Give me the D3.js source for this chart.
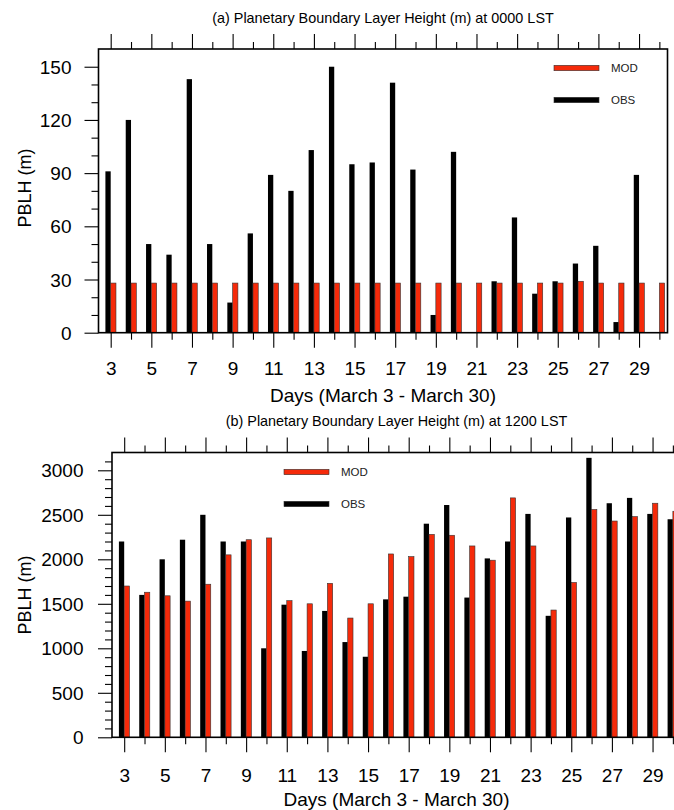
<!DOCTYPE html>
<html><head><meta charset="utf-8">
<script src="https://cdn.jsdelivr.net/npm/d3@7"></script>
<style>
html,body{margin:0;padding:0;background:#fff;}
svg{display:block;font-family:"Liberation Sans",Arial,Helvetica,sans-serif;}
</style></head>
<body><svg id="c" width="674" height="810"></svg>
<script>
// ---- data ----
const days = [3,4,5,6,7,8,9,10,11,12,13,14,15,16,17,18,19,20,21,22,23,24,25,26,27,28,29,30];
const xTickLabels = [3,5,7,9,11,13,15,17,19,21,23,25,27,29];
const series = ["MOD","OBS"];
const obs0000 = [91,120,50,44,143,50,17,56,89,80,103,150,95,96,141,92,10,102,0,29,65,22,29,39,49,6,89,0];
const mod0000 = [28,28,28,28,28,28,28,28,28,28,28,28,28,28,28,28,28,28,28,28,28,28,28,29,28,28,28,28];
const obs1200 = [2200,1600,2000,2220,2500,2200,2200,1000,1490,970,1420,1070,905,1550,1580,2400,2610,1570,2010,2200,2510,1365,2470,3140,2630,2690,2510,2450];
const mod1200 = [1700,1630,1590,1530,1720,2050,2220,2240,1535,1500,1730,1340,1500,2060,2030,2280,2270,2150,1990,2690,2150,1430,1740,2560,2430,2480,2630,2540];
const yTicks0000 = [0,30,60,90,120,150];
const yTicks1200 = [0,500,1000,1500,2000,2500,3000];
const titles = ["(a) Planetary Boundary Layer Height (m) at 0000 LST","(b) Planetary Boundary Layer Height (m) at 1200 LST"];
const xTitle = "Days (March 3 - March 30)";
const yTitle = "PBLH (m)";

const RED = "#f52a0a";
const svg = d3.select("#c");

function panel(cfg){
  const g = svg.append("g");
  const x = d3.scaleLinear().domain([2.4,30.4]).range([cfg.left, cfg.left+569]);
  const y = d3.scaleLinear().domain([0,cfg.ymax]).range([cfg.bottom, cfg.top]);
  const bw = x(2.4+0.26)-x(2.4);
  const minorX = days.filter(d=>!xTickLabels.includes(d));
  const minorY = d3.range(0,cfg.ymax,cfg.minorStep).filter(v=>!cfg.yTicks.includes(v));

  // bars
  g.selectAll("rect.obs").data(days).join("rect").attr("class","obs")
    .attr("x",(d)=>x(d)-bw).attr("width",bw)
    .attr("y",(d,i)=>y(cfg.obs[i])).attr("height",(d,i)=>y(0)-y(cfg.obs[i]))
    .attr("fill","#000");
  g.selectAll("rect.mod").data(days).join("rect").attr("class","mod")
    .attr("x",(d)=>x(d)).attr("width",bw)
    .attr("y",(d,i)=>y(cfg.mod[i])).attr("height",(d,i)=>y(0)-y(cfg.mod[i]))
    .attr("fill",RED).attr("stroke","#333").attr("stroke-width",0.6);

  // axes
  const style = sel=>{ sel.select(".domain").remove(); sel.selectAll("line").attr("stroke","#000").attr("stroke-width",1.1); };
  g.append("g").attr("transform",`translate(0,${cfg.bottom})`)
    .call(d3.axisBottom(x).tickValues(xTickLabels).tickSize(15).tickFormat(d=>String(d))).call(style)
    .call(a=>a.selectAll("text").attr("y",cfg.xLabelOff).attr("dy","0.35em")
      .attr("font-size",19).attr("fill","#000").attr("font-family",null));
  g.append("g").attr("transform",`translate(0,${cfg.bottom})`)
    .call(d3.axisBottom(x).tickValues(minorX).tickSize(7).tickFormat("")).call(style);
  g.append("g").attr("transform",`translate(0,${cfg.top})`)
    .call(d3.axisTop(x).tickValues(xTickLabels).tickSize(15).tickFormat("")).call(style);
  g.append("g").attr("transform",`translate(0,${cfg.top})`)
    .call(d3.axisTop(x).tickValues(minorX).tickSize(7).tickFormat("")).call(style);
  g.append("g").attr("transform",`translate(${cfg.left},0)`)
    .call(d3.axisLeft(y).tickValues(cfg.yTicks).tickSize(14).tickPadding(cfg.yPad).tickFormat(d=>String(d))).call(style)
    .call(a=>a.selectAll("text").attr("font-size",19).attr("fill","#000").attr("font-family",null).attr("dy","0.35em"));
  g.append("g").attr("transform",`translate(${cfg.left},0)`)
    .call(d3.axisLeft(y).tickValues(minorY).tickSize(7).tickFormat("")).call(style);

  // frame
  g.append("rect").attr("x",cfg.left).attr("y",cfg.top).attr("width",569).attr("height",cfg.bottom-cfg.top)
    .attr("fill","none").attr("stroke","#000").attr("stroke-width",1.6);

  // titles
  const cx = cfg.left+569/2;
  g.append("text").attr("x",cx).attr("y",cfg.titleY).attr("dy","0.35em").attr("text-anchor","middle")
    .attr("font-size",14.4).text(cfg.title);
  g.append("text").attr("x",cx).attr("y",cfg.xTitleY).attr("dy","0.35em").attr("text-anchor","middle")
    .attr("font-size",19).text(xTitle);
  g.append("text").attr("transform",`translate(24.5,${cfg.yTitleY}) rotate(-90)`).attr("dy","0.35em")
    .attr("text-anchor","middle").attr("font-size",18).text(yTitle);

  // legend
  const lg = g.append("g");
  series.forEach((s,i)=>{
    const ly = cfg.legY + i*32;
    lg.append("rect").attr("x",cfg.legX).attr("y",ly-2.7).attr("width",45).attr("height",5.4)
      .attr("fill",s==="MOD"?RED:"#000").attr("stroke","#333").attr("stroke-width",0.6);
    lg.append("text").attr("x",cfg.legX+57).attr("y",ly).attr("dy","0.35em")
      .attr("font-size",11.5).attr("fill","#222").text(s);
  });
}

panel({left:98.5, top:49, bottom:332.7, ymax:160, minorStep:10, yTicks:yTicks0000,
  obs:obs0000, mod:mod0000, xLabelOff:35.5, yPad:13, title:titles[0], titleY:18.3,
  xTitleY:395, yTitleY:188, legX:554, legY:68});
panel({left:112, top:452.5, bottom:737.3, ymax:3200, minorStep:100, yTicks:yTicks1200,
  obs:obs1200, mod:mod1200, xLabelOff:37.7, yPad:14.5, title:titles[1], titleY:420.7,
  xTitleY:799.5, yTitleY:595, legX:284, legY:472});
</script></body></html>
